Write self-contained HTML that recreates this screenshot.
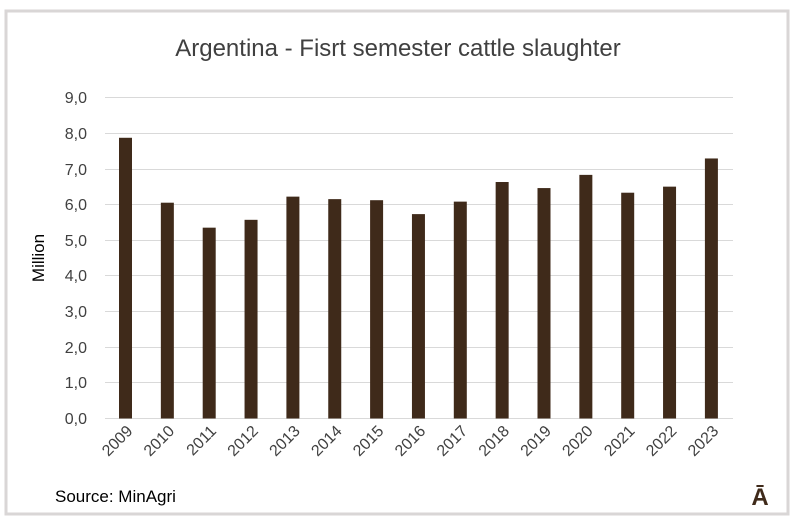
<!DOCTYPE html>
<html><head><meta charset="utf-8"><style>
body{margin:0;background:#fff;}
svg{display:block;font-family:"Liberation Sans",sans-serif;}
</style></head><body>
<svg width="796" height="524" viewBox="0 0 796 524">
<rect x="0" y="0" width="796" height="524" fill="#fff"/>
<rect x="6" y="11" width="782" height="503" fill="#fff" stroke="#d9d6d6" stroke-width="3"/>
<text x="398" y="56" text-anchor="middle" font-size="24" fill="#404040">Argentina - Fisrt semester cattle slaughter</text>
<g stroke="#d9d9d9" stroke-width="1">
<line x1="105" x2="733" y1="97.5" y2="97.5"/>
<line x1="105" x2="733" y1="133.5" y2="133.5"/>
<line x1="105" x2="733" y1="169.5" y2="169.5"/>
<line x1="105" x2="733" y1="204.5" y2="204.5"/>
<line x1="105" x2="733" y1="240.5" y2="240.5"/>
<line x1="105" x2="733" y1="275.5" y2="275.5"/>
<line x1="105" x2="733" y1="311.5" y2="311.5"/>
<line x1="105" x2="733" y1="347.5" y2="347.5"/>
<line x1="105" x2="733" y1="382.5" y2="382.5"/>
<line x1="105" x2="733" y1="418.5" y2="418.5"/>
</g>
<g font-size="16" fill="#404040" text-anchor="end">
<text x="87" y="103">9,0</text><text x="87" y="139">8,0</text><text x="87" y="175">7,0</text>
<text x="87" y="210">6,0</text><text x="87" y="246">5,0</text><text x="87" y="281">4,0</text>
<text x="87" y="317">3,0</text><text x="87" y="353">2,0</text><text x="87" y="388">1,0</text>
<text x="87" y="424">0,0</text>
</g>
<text transform="translate(44,258) rotate(-90)" text-anchor="middle" font-size="17" fill="#000">Million</text>
<g fill="#3f2a1a" id="bars"></g>
<g id="labels" font-size="16" fill="#404040"></g>
<text x="55" y="502" font-size="17" fill="#000">Source: MinAgri</text>
<text x="760" y="505" text-anchor="middle" font-size="24" font-weight="bold" fill="#3f2a1a">Ā</text>
<script>
var v=[7.87,6.05,5.35,5.57,6.22,6.15,6.12,5.73,6.08,6.63,6.46,6.83,6.33,6.50,7.29];
var b=document.getElementById('bars'),l=document.getElementById('labels'),ns='http://www.w3.org/2000/svg';
for(var i=0;i<15;i++){var cx=125.5+i*41.85;var h=v[i]*35.67;
var r=document.createElementNS(ns,'rect');r.setAttribute('x',cx-6.5);r.setAttribute('y',418.5-h);r.setAttribute('width',13);r.setAttribute('height',h);b.appendChild(r);
var t=document.createElementNS(ns,'text');t.setAttribute('text-anchor','end');t.setAttribute('transform','translate('+(cx+8)+',432) rotate(-45)');t.textContent=2009+i;l.appendChild(t);}
</script>
</svg>
</body></html>
